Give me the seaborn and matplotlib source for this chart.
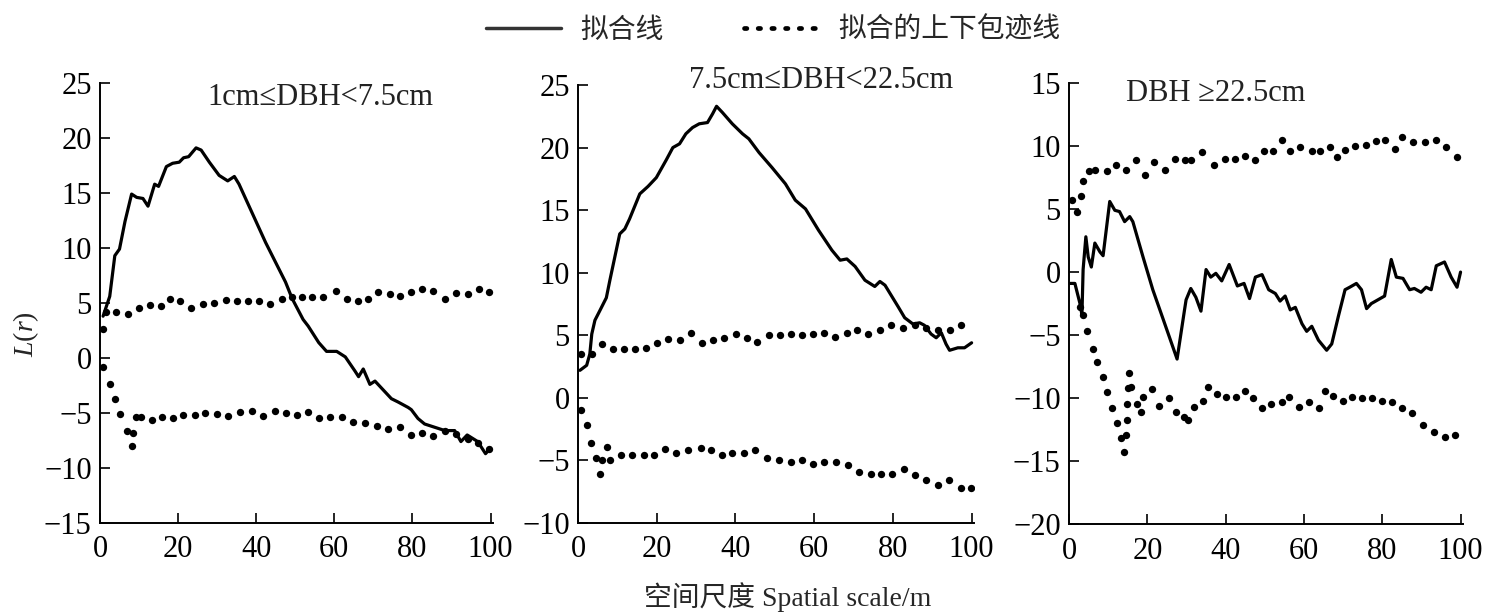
import numpy as np
import pandas as pd
import matplotlib
matplotlib.use("Agg")
import matplotlib.pyplot as plt
from matplotlib.lines import Line2D
import seaborn as sns

# ---------------- data ----------------
# Panel 1: 1cm<=DBH<7.5cm
p1_fit_x = [0.8, 2.5, 3.8, 5.0, 6.4, 8.1, 9.4, 11.0, 12.3, 14.0, 15.0, 17.0, 18.6, 20.3, 21.4, 22.7, 24.6, 25.9,
            28.0, 30.5, 32.7, 34.4, 35.6, 42.4, 47.5, 49.2, 52.0, 53.3, 56.0, 58.0, 60.6, 62.8, 65.3, 66.2, 67.4,
            69.1, 70.4, 74.6, 76.3, 78.9, 79.7, 81.4, 83.1, 85.7, 88.3, 90.8, 92.4, 94.0, 96.7, 98.7, 100.0]
p1_fit_y = [3.8, 5.6, 9.3, 9.9, 12.4, 14.9, 14.6, 14.5, 13.8, 15.8, 15.6, 17.4, 17.7, 17.8, 18.2, 18.3, 19.1, 18.9,
            17.8, 16.6, 16.1, 16.5, 15.8, 10.5, 6.9, 5.4, 3.5, 2.9, 1.4, 0.6, 0.6, 0.1, -1.2, -1.7, -1.0,
            -2.4, -2.1, -3.7, -4.0, -4.5, -4.7, -5.5, -6.0, -6.3, -6.6, -6.6, -7.6, -7.0, -7.6, -8.7, -8.2]
p1_up_x = [0.8, 1.5, 4.2, 7.2, 10.0, 12.7, 15.7, 18.0, 20.5, 23.3, 26.3, 29.3, 32.2, 35.0, 37.8, 40.7, 43.4, 46.5,
           49.2, 51.7, 54.3, 57.2, 60.4, 63.2, 66.0, 68.7, 71.3, 74.2, 76.8, 79.7, 82.5, 85.3, 88.2, 91.2, 94.1,
           97.1, 99.7]
p1_up_y = [2.6, 4.2, 4.15, 4.0, 4.5, 4.8, 4.7, 5.4, 5.2, 4.5, 4.9, 5.0, 5.3, 5.2, 5.2, 5.2, 4.9, 5.4,
           5.5, 5.5, 5.5, 5.5, 6.1, 5.4, 5.2, 5.4, 6.0, 5.8, 5.6, 6.0, 6.3, 6.1, 5.4, 5.9, 5.8,
           6.3, 6.0]
p1_lo_x = [0.9, 2.5, 3.8, 5.1, 6.8, 8.1, 8.5, 9.2, 10.6, 13.2, 15.9, 18.7, 21.2, 24.2, 27.0, 29.9, 32.9, 35.8,
           38.8, 41.7, 44.8, 47.5, 50.5, 53.3, 56.0, 58.8, 62.0, 64.9, 67.9, 70.8, 73.8, 76.8, 79.7, 82.5, 85.3,
           88.2, 91.2, 94.1, 96.7, 99.7]
p1_lo_y = [-0.85, -2.4, -3.7, -5.1, -6.6, -8.0, -6.8, -5.4, -5.4, -5.6, -5.4, -5.5, -5.2, -5.2, -5.0, -5.1, -5.3,
           -4.9, -4.8, -5.3, -4.8, -5.0, -5.2, -4.9, -5.5, -5.4, -5.4, -5.8, -5.9, -6.2, -6.5, -6.3, -7.0, -6.8,
           -7.1, -6.6, -6.9, -7.4, -7.7, -8.3]

# Panel 2: 7.5cm<=DBH<22.5cm
p2_fit_x = [0.5, 2.2, 3.0, 3.5, 4.3, 5.6, 7.2, 8.1, 10.6, 11.9, 13.1, 15.7, 17.8, 19.9, 22.4, 24.1, 25.8, 27.4,
            29.1, 30.8, 32.9, 34.2, 35.2, 36.7, 39.2, 41.8, 43.4, 46.0, 49.3, 52.7, 55.2, 57.8, 61.1, 64.5, 66.6,
            68.3, 70.4, 72.9, 75.4, 76.7, 78.0, 81.3, 83.0, 85.1, 86.8, 88.0, 89.7, 91.0, 92.3, 93.5, 94.4, 96.5,
            98.2, 100.0]
p2_fit_y = [2.2, 2.6, 3.5, 5.1, 6.2, 7.0, 8.0, 9.4, 13.1, 13.5, 14.3, 16.3, 16.9, 17.6, 19.0, 20.0, 20.3, 21.1,
            21.6, 21.9, 22.0, 22.7, 23.3, 22.8, 21.9, 21.1, 20.7, 19.6, 18.4, 17.1, 15.8, 15.1, 13.4, 11.8, 11.0,
            11.1, 10.5, 9.4, 8.9, 9.3, 9.0, 7.3, 6.4, 5.9, 6.0, 5.8, 5.1, 4.8, 5.2, 4.3, 3.8, 4.0,
            4.0, 4.4]
p2_up_x = [0.8, 3.5, 6.0, 8.8, 11.6, 14.4, 17.2, 20.0, 22.8, 25.9, 28.7, 31.5, 34.2, 37.1, 40.1, 43.0, 45.5, 48.5,
           51.4, 54.2, 56.9, 59.8, 62.4, 65.3, 68.3, 70.8, 73.7, 76.7, 79.6, 82.6, 85.5, 88.5, 91.4, 94.4, 97.3]
p2_up_y = [3.5, 3.5, 4.3, 3.9, 3.9, 3.9, 4.0, 4.4, 4.7, 4.6, 5.2, 4.4, 4.6, 4.8, 5.1, 4.8, 4.5, 5.0,
           5.0, 5.1, 5.0, 5.1, 5.2, 4.9, 5.2, 5.4, 5.1, 5.4, 5.8, 5.6, 5.8, 5.6, 5.4, 5.4, 5.8]
p2_lo_x = [0.8, 2.2, 3.3, 4.6, 5.6, 6.0, 7.4, 8.1, 11.0, 13.8, 16.7, 19.4, 22.2, 24.9, 27.9, 31.2, 33.8, 36.5,
           39.2, 42.2, 44.9, 48.1, 51.0, 54.0, 56.9, 59.8, 62.6, 65.6, 68.7, 71.4, 74.4, 77.1, 79.8, 82.8, 85.7,
           88.5, 91.4, 94.2, 97.2, 99.8]
p2_lo_y = [-1.0, -2.2, -3.6, -4.8, -6.1, -5.0, -3.9, -5.0, -4.6, -4.6, -4.6, -4.6, -4.1, -4.4, -4.2, -4.0, -4.2,
           -4.6, -4.4, -4.4, -4.2, -4.8, -5.0, -5.1, -5.0, -5.3, -5.1, -5.1, -5.4, -5.9, -6.1, -6.1, -6.1, -5.7,
           -6.2, -6.6, -7.0, -6.6, -7.2, -7.2]

# Panel 3: DBH>=22.5cm
p3_fit_x = [0.3, 1.5, 2.8, 3.3, 3.6, 4.3, 4.9, 5.7, 6.6, 7.9, 8.7, 10.4, 11.7, 12.9, 14.2, 15.5, 16.3, 18.9, 21.4,
            24.0, 27.6, 29.5, 29.9, 31.1, 32.4, 33.7, 35.0, 36.2, 37.5, 39.0, 40.9, 43.0, 44.7, 46.1, 47.6, 49.3,
            51.0, 52.7, 53.9, 55.2, 56.5, 57.8, 59.5, 60.7, 62.0, 63.7, 65.8, 67.1, 68.8, 70.5, 71.7, 73.4, 74.7,
            76.0, 77.2, 78.9, 80.6, 82.3, 83.6, 85.3, 87.0, 88.2, 89.9, 91.2, 92.5, 93.8, 95.9, 97.6, 99.1, 100.0]
p3_fit_y = [-0.9, -0.9, -2.5, -3.4, 0.2, 2.8, 1.2, 0.4, 2.3, 1.6, 1.3, 5.6, 4.9, 4.8, 4.0, 4.4, 4.0, 1.2, -1.4,
            -3.7, -6.9, -3.0, -2.2, -1.3, -2.0, -3.1, 0.2, -0.4, -0.1, -0.7, 0.6, -1.1, -0.9, -2.1, -0.4, -0.2,
            -1.4, -1.7, -2.3, -1.9, -3.0, -2.8, -4.1, -4.7, -4.3, -5.4, -6.2, -5.7, -3.5, -1.4, -1.2, -0.9, -1.4,
            -2.9, -2.5, -2.2, -1.9, 1.0, -0.4, -0.5, -1.4, -1.3, -1.6, -1.2, -1.4, 0.5, 0.8, -0.4, -1.2, 0.0]
p3_up_x = [0.7, 2.1, 3.0, 3.6, 5.2, 6.6, 9.6, 12.1, 14.6, 17.2, 19.3, 21.8, 24.4, 27.1, 29.7, 31.1, 33.9, 37.0,
           39.8, 42.4, 44.9, 47.6, 49.8, 52.0, 54.4, 56.5, 59.0, 62.0, 64.1, 66.7, 68.4, 70.5, 73.0, 75.9, 78.5,
           80.6, 83.2, 85.0, 87.8, 90.8, 93.7, 96.3, 99.1]
p3_up_y = [5.7, 4.8, 6.0, 7.2, 8.0, 8.1, 8.0, 8.5, 8.1, 8.9, 7.7, 8.7, 8.1, 9.0, 8.9, 8.9, 9.5, 8.5,
           9.0, 9.0, 9.2, 8.9, 9.6, 9.6, 10.5, 9.6, 9.9, 9.6, 9.6, 9.9, 9.1, 9.7, 10.0, 10.1, 10.4,
           10.5, 9.8, 10.7, 10.3, 10.3, 10.5, 9.9, 9.1]
p3_lo_x = [2.8, 3.6, 4.7, 6.0, 7.2, 8.6, 9.7, 11.1, 12.3, 13.4, 14.0, 14.5, 14.7, 14.7, 15.1, 15.3, 15.9, 17.3,
           18.5, 19.0, 21.2, 22.9, 25.5, 27.2, 29.4, 30.5, 32.0, 34.3, 35.6, 37.9, 40.0, 42.6, 44.9, 46.9, 49.2,
           51.7, 54.4, 56.1, 58.8, 61.2, 63.9, 65.4, 67.5, 70.1, 72.3, 74.9, 77.4, 79.9, 82.5, 85.0, 87.6, 90.4,
           93.2, 95.9, 98.6]
p3_lo_y = [-2.8, -3.4, -4.7, -6.1, -7.1, -8.3, -9.5, -10.8, -12.0, -13.2, -14.3, -12.9, -11.7, -10.5, -9.2, -8.0,
           -9.1, -10.5, -11.1, -9.9, -9.3, -10.6, -10.0, -11.1, -11.5, -11.7, -10.7, -10.2, -9.1, -9.7, -9.9,
           -9.9, -9.4, -10.0, -10.8, -10.5, -10.3, -9.9, -10.7, -10.3, -10.8, -9.4, -9.8, -10.2, -9.9, -10.0,
           -10.0, -10.2, -10.3, -10.8, -11.2, -12.1, -12.7, -13.1, -12.9]

titles = ["1cm≤DBH<7.5cm", "7.5cm≤DBH<22.5cm", "DBH ≥22.5cm"]
ylims = [(-15, 25), (-10, 25), (-20, 15)]
xticks = [0, 20, 40, 60, 80, 100]
legend_labels = ["拟合线", "拟合的上下包迹线"]
xlabel_text = "空间尺度 Spatial scale/m"
ylabel_text = "$L(r)$"

panels = [
    (p1_fit_x, p1_fit_y, p1_up_x, p1_up_y, p1_lo_x, p1_lo_y),
    (p2_fit_x, p2_fit_y, p2_up_x, p2_up_y, p2_lo_x, p2_lo_y),
    (p3_fit_x, p3_fit_y, p3_up_x, p3_up_y, p3_lo_x, p3_lo_y),
]

# ---------------- style ----------------
sns.set_theme(style="ticks")
plt.rcParams['font.family'] = ['Liberation Serif', 'Noto Sans CJK SC', 'DejaVu Sans']
plt.rcParams['mathtext.fontset'] = 'custom'
plt.rcParams['mathtext.it'] = 'Liberation Serif:italic'
plt.rcParams['mathtext.rm'] = 'Liberation Serif'
plt.rcParams['axes.unicode_minus'] = True

fig = plt.figure(figsize=(14.92, 6.16), dpi=100)
positions = [
    [0.0670, 0.151, 0.2634, 0.7143],
    [0.3874, 0.151, 0.2654, 0.7110],
    [0.7165, 0.149, 0.2640, 0.7163],
]
title_pos = [(0.56, 0.968), (0.614, 1.01), (0.373, 0.977)]

axes = []
for i, (fx, fy, ux, uy, lx, ly) in enumerate(panels):
    ax = fig.add_axes(positions[i])
    axes.append(ax)
    df_fit = pd.DataFrame({"x": fx, "y": fy})
    df_up = pd.DataFrame({"x": ux, "y": uy})
    df_lo = pd.DataFrame({"x": lx, "y": ly})
    sns.lineplot(data=df_fit, x="x", y="y", ax=ax, color="black", linewidth=2.3,
                 sort=False, estimator=None)
    for d in (df_up, df_lo):
        sns.scatterplot(data=d, x="x", y="y", ax=ax, color="black", s=28,
                        linewidth=0, marker="o")
    ax.set_xlim(0, 100.6)
    ax.set_ylim(*ylims[i])
    ax.set_xticks(xticks)
    ax.set_yticks(np.arange(ylims[i][0], ylims[i][1] + 1, 5))
    ax.tick_params(direction="in", length=7, width=1.2, labelsize=22, colors="black")
    ax.tick_params(axis="x", pad=9)
    ax.tick_params(axis="y", pad=6)
    for side in ("left", "bottom"):
        ax.spines[side].set_linewidth(1.4)
        ax.spines[side].set_color("black")
    sns.despine(ax=ax)
    ax.set_xlabel("")
    ax.set_ylabel("")
    ax.text(title_pos[i][0], title_pos[i][1], titles[i], transform=ax.transAxes,
            ha="center", va="center", fontsize=22, color="#222222")

axes[0].set_ylabel(ylabel_text, fontsize=20)
axes[0].yaxis.set_label_coords(-0.15, 0.43)
axes[1].set_xlabel(xlabel_text, fontsize=20)
axes[1].xaxis.set_label_coords(0.53, -0.135)

handles = [
    Line2D([], [], color="#333333", linewidth=2.5),
    Line2D([], [], color="black", linewidth=3.4, linestyle=(0, (0.5, 2.4)),
           dash_capstyle="round"),
]
fig.legend(handles, legend_labels, loc="center", bbox_to_anchor=(0.518, 0.95), ncol=2,
           frameon=False, fontsize=20, handlelength=2.7, handletextpad=0.7,
           columnspacing=2.9)

fig.savefig("out.png", dpi=100)
